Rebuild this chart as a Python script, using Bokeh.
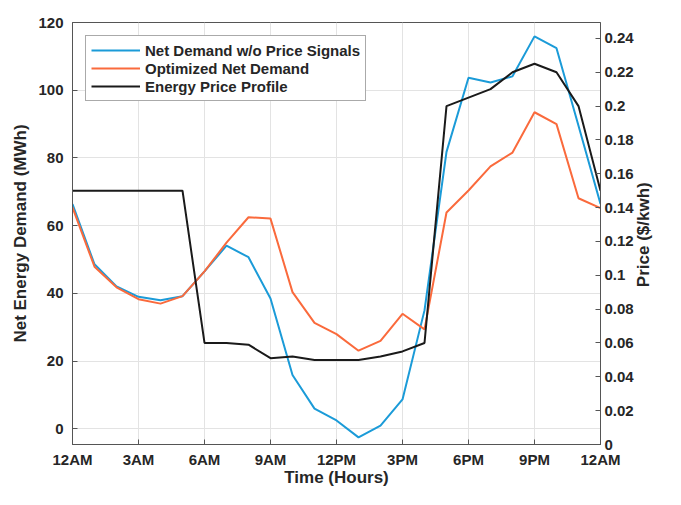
import math
from bokeh.plotting import figure
from bokeh.models import Range1d, LinearAxis, FixedTicker
from bokeh.embed import file_html
from bokeh.resources import INLINE

hours = list(range(25))
x_tick_labels = ["12AM", "3AM", "6AM", "9AM", "12PM", "3PM", "6PM", "9PM", "12AM"]
x_ticks = [0, 3, 6, 9, 12, 15, 18, 21, 24]

demand_no_price = [66.4, 48.6, 42.1, 39.0, 38.0, 39.2, 46.5, 54.1, 50.7, 38.5, 15.9, 6.0,
                   2.5, -2.5, 1.0, 8.7, 35.0, 81.8, 103.7, 102.3, 104.1, 115.9, 112.4, 89.5, 66.4]
demand_optimized = [65.4, 47.9, 41.8, 38.3, 37.0, 39.2, 46.5, 55.0, 62.5, 62.1, 40.4, 31.3,
                    28.0, 23.1, 26.0, 34.0, 29.4, 63.9, 70.4, 77.5, 81.6, 93.5, 90.0, 68.1, 65.2]
price = [0.15, 0.15, 0.15, 0.15, 0.15, 0.15, 0.06, 0.06, 0.059, 0.051, 0.052, 0.05,
         0.05, 0.05, 0.052, 0.055, 0.06, 0.20, 0.205, 0.21, 0.22, 0.225, 0.22, 0.20, 0.15]

left_ticks = [0, 20, 40, 60, 80, 100, 120]
right_ticks = [0, 0.02, 0.04, 0.06, 0.08, 0.1, 0.12, 0.14, 0.16, 0.18, 0.2, 0.22, 0.24]
right_title = "Price ($/kwh)"
right_title_start = 0.093   # price level where the rotated title begins

FONT = "Liberation Sans"
TXT = "#262626"
AX = "#555555"

p = figure(width=665, height=489, output_backend="svg", toolbar_location=None,
           x_range=Range1d(0, 24), y_range=Range1d(-4.6, 120),
           min_border_left=72, min_border_right=0, min_border_top=22, min_border_bottom=30)
p.extra_y_ranges = {"price": Range1d(0, 0.2494)}

p.line(hours, demand_no_price, line_color="#1B9BD8", line_width=2,
       legend_label="Net Demand w/o Price Signals")
p.line(hours, demand_optimized, line_color="#FA6A3C", line_width=2,
       legend_label="Optimized Net Demand")
p.line(hours, price, line_color="#1a1a1a", line_width=2, y_range_name="price",
       legend_label="Energy Price Profile")

def style_axis(ax, size="15px"):
    ax.major_label_text_font = FONT
    ax.major_label_text_font_style = "bold"
    ax.major_label_text_font_size = size
    ax.major_label_text_color = TXT
    ax.axis_label_text_font = FONT
    ax.axis_label_text_font_style = "bold"
    ax.axis_label_text_font_size = "17px"
    ax.axis_label_text_color = TXT
    ax.axis_line_color = AX
    ax.major_tick_line_color = AX
    ax.major_tick_in = 5
    ax.major_tick_out = 0
    ax.minor_tick_line_color = None

xa = p.xaxis[0]
xa.ticker = FixedTicker(ticks=x_ticks)
xa.major_label_overrides = {t: l for t, l in zip(x_ticks, x_tick_labels)}
xa.axis_label = "Time (Hours)"
style_axis(xa)
xa.major_label_standoff = 6
xa.axis_label_standoff = -3

ya = p.yaxis[0]
ya.ticker = FixedTicker(ticks=left_ticks)
ya.axis_label = "Net Energy Demand (MWh)"
style_axis(ya)
ya.major_label_standoff = 9
ya.axis_label_standoff = 5

ra = LinearAxis(y_range_name="price", ticker=FixedTicker(ticks=right_ticks))
ra.major_label_overrides = {t: f"{t:g}" for t in right_ticks}
style_axis(ra)
ra.major_label_standoff = 4
p.add_layout(ra, "right")

# outer right axis carrying only the rotated title (reads bottom-to-top)
rt = LinearAxis(y_range_name="price", ticker=FixedTicker(ticks=[right_title_start]))
rt.major_label_overrides = {right_title_start: right_title}
rt.major_label_orientation = math.pi / 2
rt.major_label_text_font = FONT
rt.major_label_text_font_style = "bold"
rt.major_label_text_font_size = "17px"
rt.major_label_text_color = TXT
rt.major_label_standoff = 7
rt.axis_line_color = None
rt.major_tick_line_color = None
rt.minor_tick_line_color = None
rt.major_tick_in = 0
rt.major_tick_out = 0
p.add_layout(rt, "right")

p.xgrid.ticker = FixedTicker(ticks=x_ticks)
p.ygrid.ticker = FixedTicker(ticks=left_ticks)
p.xgrid.grid_line_color = "#e3e3e3"
p.ygrid.grid_line_color = "#e3e3e3"
p.outline_line_color = AX

lg = p.legend[0]
lg.location = "top_left"
lg.margin = 13
lg.padding = 5
lg.spacing = 0
lg.label_height = 18
lg.glyph_height = 18
lg.glyph_width = 49
lg.label_standoff = 5
lg.label_text_font = FONT
lg.label_text_font_style = "bold"
lg.label_text_font_size = "15px"
lg.label_text_color = TXT
lg.border_line_color = AX
lg.border_line_width = 1
lg.background_fill_alpha = 1

open("out.html", "w").write(file_html(p, INLINE))
